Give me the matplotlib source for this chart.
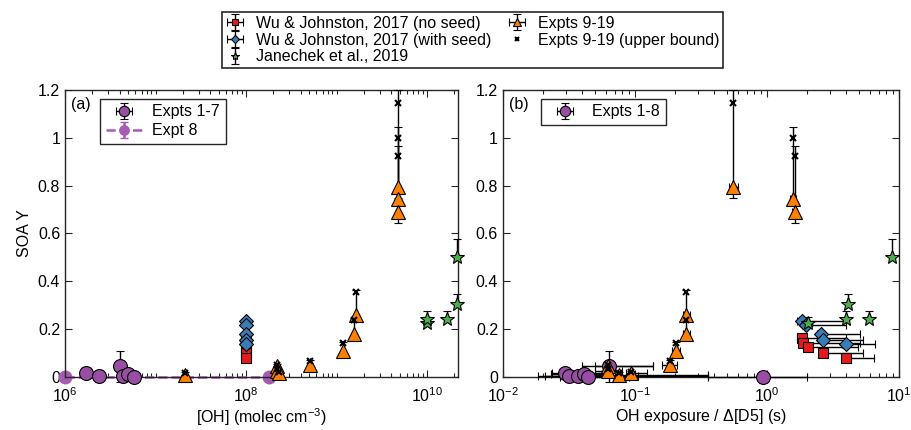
import matplotlib
matplotlib.use('Agg')
import matplotlib.pyplot as plt
import numpy as np
from matplotlib.ticker import LogLocator, FuncFormatter, NullFormatter, FixedLocator

plt.rcParams['font.family'] = ['Liberation Sans', 'DejaVu Sans']
plt.rcParams['font.size'] = 11.5
plt.rcParams['mathtext.default'] = 'regular'
plt.rcParams['axes.unicode_minus'] = False

# colours
purple = '#984EA3'
purple8 = '#A65BB3'
blue = '#377EB8'
red = '#E41A1C'
orange = '#FF7F00'
green = '#4DAF4A'
dark = '#262626'

# ---- Expts 1-7 (purple circles)
p_oh = np.array([1.7e6, 2.4e6, 4.0e6, 4.4e6, 5.0e6, 5.75e6])
p_exp = np.array([0.0296, 0.0318, 0.064, 0.037, 0.041, 0.0443])
p_y = np.array([0.018, 0.004, 0.045, 0.005, 0.012, 0.0])
p_yerr = np.array([0.02, 0.005, 0.065, 0.005, 0.01, 0.005])
p_exp_lo = np.array([0.0235, 0.0184, 0.040, 0.021, 0.023, 0.027])
p_exp_hi = np.array([0.065, 0.36, 0.136, 0.105, 0.065, 0.09])

# ---- Expt 8
e8_oh = np.array([1e6, 1.8e8])
e8_y = np.array([0.0, 0.0])
e8_exp = np.array([0.93])
e8_exp_lo = np.array([0.36])
e8_exp_hi = np.array([2.0])

# ---- Expts 9-19 (orange triangles)
o_oh = np.array([2.1e7, 2.2e8, 2.2e8, 2.3e8, 5.1e8, 1.19e9, 1.57e9, 1.66e9, 4.8e9, 4.8e9, 4.8e9])
o_exp = np.array([0.076, 0.063, 0.063, 0.094, 0.184, 0.204, 0.243, 0.243, 0.556, 1.57, 1.63])
o_y = np.array([0.01, 0.045, 0.025, 0.015, 0.05, 0.11, 0.18, 0.26, 0.795, 0.745, 0.69])
o_ylo = np.array([0.005, 0.04, 0.02, 0.01, 0.045, 0.10, 0.17, 0.24, 0.748, 0.725, 0.644])
o_yhi = np.array([0.02, 0.055, 0.04, 0.025, 0.07, 0.145, 0.245, 0.365, 1.2, 1.046, 0.966])
o_ub = np.array([0.015, 0.05, 0.035, 0.02, 0.065, 0.14, 0.238, 0.355, 1.145, 1.0, 0.925])
o_exp_lo = np.array([0.045, 0.05, 0.05, 0.085, 0.159, 0.19, 0.23, 0.23, 0.52, 1.5, 1.55])
o_exp_hi = np.array([0.36, 0.136, 0.08, 0.123, 0.208, 0.22, 0.26, 0.26, 0.6, 1.65, 1.7])

# ---- Wu & Johnston 2017 with seed (blue diamonds)
b_oh = np.array([1e8, 1e8, 1e8, 1e8, 1e8])
b_exp = np.array([1.85, 1.97, 2.56, 2.67, 4.0])
b_y = np.array([0.232, 0.218, 0.178, 0.155, 0.138])
b_exp_lo = np.array([1.7, 1.85, 2.4, 2.5, 3.7])
b_exp_hi = np.array([4.0, 4.0, 5.07, 5.3, 6.6])

# ---- Wu & Johnston 2017 no seed (red squares)
r_oh = np.array([1e8, 1e8, 1e8, 1e8, 1e8])
r_exp = np.array([1.83, 1.89, 2.05, 2.67, 4.0])
r_y = np.array([0.162, 0.141, 0.127, 0.102, 0.081])
r_exp_lo = np.array([1.7, 1.75, 1.9, 2.5, 3.7])
r_exp_hi = np.array([4.0, 5.07, 4.9, 5.3, 6.5])

# ---- Janechek et al. 2019 (green stars)
g_oh = np.array([1e10, 1e10, 2.15e10, 1.65e10, 2.15e10])
g_exp = np.array([2.05, 4.0, 4.1, 5.9, 8.85])
g_y = np.array([0.224, 0.241, 0.304, 0.243, 0.503])
g_yup = np.array([0.025, 0.035, 0.043, 0.034, 0.073])

fig = plt.figure(figsize=(9.11, 4.3), dpi=100)
ax1 = fig.add_axes([0.0714, 0.1233, 0.4314, 0.6674])
ax2 = fig.add_axes([0.5521, 0.1233, 0.4347, 0.6674])

ekw = dict(ecolor='black', elinewidth=1, capsize=3, capthick=1, mec='black', mew=0.8,
           linestyle='none', clip_on=False)


def errs(x, lo, hi):
    return [x - lo, hi - x]


# ---------------- panel (a)
ax = ax1
h8 = ax.errorbar(e8_oh, e8_y, yerr=[[0, 0], [0, 0]], fmt='o', color=purple8, mec=purple8,
                 ms=9, ls='--', lw=1.8, ecolor=purple8, capsize=3, clip_on=False, zorder=2)
h17 = ax.errorbar(p_oh, p_y, yerr=p_yerr, xerr=0 * p_oh, fmt='o', color=purple, ms=10, zorder=3, **ekw)
ax.errorbar(r_oh, r_y, yerr=0.005, fmt='s', color=red, ms=6.5, zorder=3, **ekw)
ax.errorbar(b_oh, b_y, yerr=0.005, fmt='D', color=blue, ms=7.5, zorder=3, **ekw)
ax.errorbar(o_oh, o_y, yerr=errs(o_y, o_ylo, o_yhi), fmt='^', color=orange, ms=10, zorder=3, **ekw)
ax.plot(o_oh, o_ub, 'x', color='black', ms=4, mew=1.5, zorder=4, clip_on=False)
ax.errorbar(g_oh, g_y, yerr=[0 * g_y, g_yup], fmt='*', color=green, ms=10, zorder=3, **ekw)

ax.set_xscale('log')
ax.set_xlim(1e6, 2.2e10)
ax.xaxis.set_major_locator(FixedLocator([1e6, 1e8, 1e10]))
ax.set_xlabel('[OH] (molec cm$^{-3}$)', labelpad=1)
ax.set_ylabel('SOA Y')
ax.text(0.015, 0.975, '(a)', transform=ax.transAxes, ha='left', va='top')
leg = ax.legend([h17, h8], ['Expts 1-7', 'Expt 8'], loc='upper left',
                bbox_to_anchor=(0.09, 0.97), fancybox=False, framealpha=1,
                edgecolor=dark, handlelength=2.3, handletextpad=0.6, markerscale=0.75,
                borderpad=0.35, labelspacing=0.25, borderaxespad=0)
leg.get_frame().set_linewidth(1)

# ---------------- panel (b)
ax = ax2
hp = ax.errorbar(np.concatenate([p_exp, e8_exp]), np.concatenate([p_y, [0.0]]),
                 yerr=np.concatenate([p_yerr, [0.0]]),
                 xerr=errs(np.concatenate([p_exp, e8_exp]), np.concatenate([p_exp_lo, e8_exp_lo]),
                           np.concatenate([p_exp_hi, e8_exp_hi])),
                 fmt='o', color=purple, ms=10, zorder=3, **ekw)
hr = ax.errorbar(r_exp, r_y, yerr=0.005, xerr=errs(r_exp, r_exp_lo, r_exp_hi),
                 fmt='s', color=red, ms=6.5, zorder=3, **ekw)
hb = ax.errorbar(b_exp, b_y, yerr=0.005, xerr=errs(b_exp, b_exp_lo, b_exp_hi),
                 fmt='D', color=blue, ms=7.5, zorder=3, **ekw)
ho = ax.errorbar(o_exp, o_y, yerr=errs(o_y, o_ylo, o_yhi), xerr=errs(o_exp, o_exp_lo, o_exp_hi),
                 fmt='^', color=orange, ms=10, zorder=3, **ekw)
hx, = ax.plot(o_exp, o_ub, 'x', color='black', ms=4, mew=1.5, zorder=4, clip_on=False)
hg = ax.errorbar(g_exp, g_y, yerr=[0 * g_y, g_yup], fmt='*', color=green, ms=10, zorder=3, **ekw)

ax.set_xscale('log')
ax.set_xlim(1e-2, 1e1)
ax.xaxis.set_major_locator(FixedLocator([1e-2, 1e-1, 1e0, 1e1]))
ax.set_xlabel('OH exposure / $\\Delta$[D5] (s)', labelpad=1)
ax.text(0.015, 0.975, '(b)', transform=ax.transAxes, ha='left', va='top')
leg = ax.legend([hp], ['Expts 1-8'], loc='upper left', bbox_to_anchor=(0.095, 0.97),
                fancybox=False, framealpha=1, edgecolor=dark, handlelength=2.3,
                handletextpad=0.6, markerscale=0.75, borderpad=0.35, borderaxespad=0)
leg.get_frame().set_linewidth(1)

for ax in (ax1, ax2):
    ax.set_ylim(0, 1.2)
    ax.set_yticks(np.arange(0, 1.21, 0.2))
    ax.yaxis.set_major_formatter(FuncFormatter(lambda v, p: '%g' % round(v, 2)))
    ax.xaxis.set_minor_locator(LogLocator(base=10, subs=np.arange(1, 10), numticks=40))
    ax.xaxis.set_minor_formatter(NullFormatter())
    ax.tick_params(which='both', direction='in', top=True, right=True, colors=dark,
                   labelcolor='black', width=0.8)
    ax.tick_params(which='major', length=5)
    ax.tick_params(which='minor', length=3)
    ax.tick_params(axis='x', which='major', pad=7)
    for s in ax.spines.values():
        s.set_color(dark)
        s.set_linewidth(1)

# ---------------- shared legend
leg = fig.legend([hr, hb, hg, ho, hx],
                 ['Wu & Johnston, 2017 (no seed)', 'Wu & Johnston, 2017 (with seed)',
                  'Janechek et al., 2019', 'Expts 9-19', 'Expts 9-19 (upper bound)'],
                 ncol=2, loc='upper center', bbox_to_anchor=(0.5185, 0.972),
                 fancybox=False, framealpha=1, edgecolor=dark, handlelength=1.2,
                 handletextpad=0.7, columnspacing=1.0, borderpad=0.25, markerscale=0.6,
                 labelspacing=0.1, borderaxespad=0)
leg.get_frame().set_linewidth(1.2)

fig.savefig('out.png', dpi=100)
